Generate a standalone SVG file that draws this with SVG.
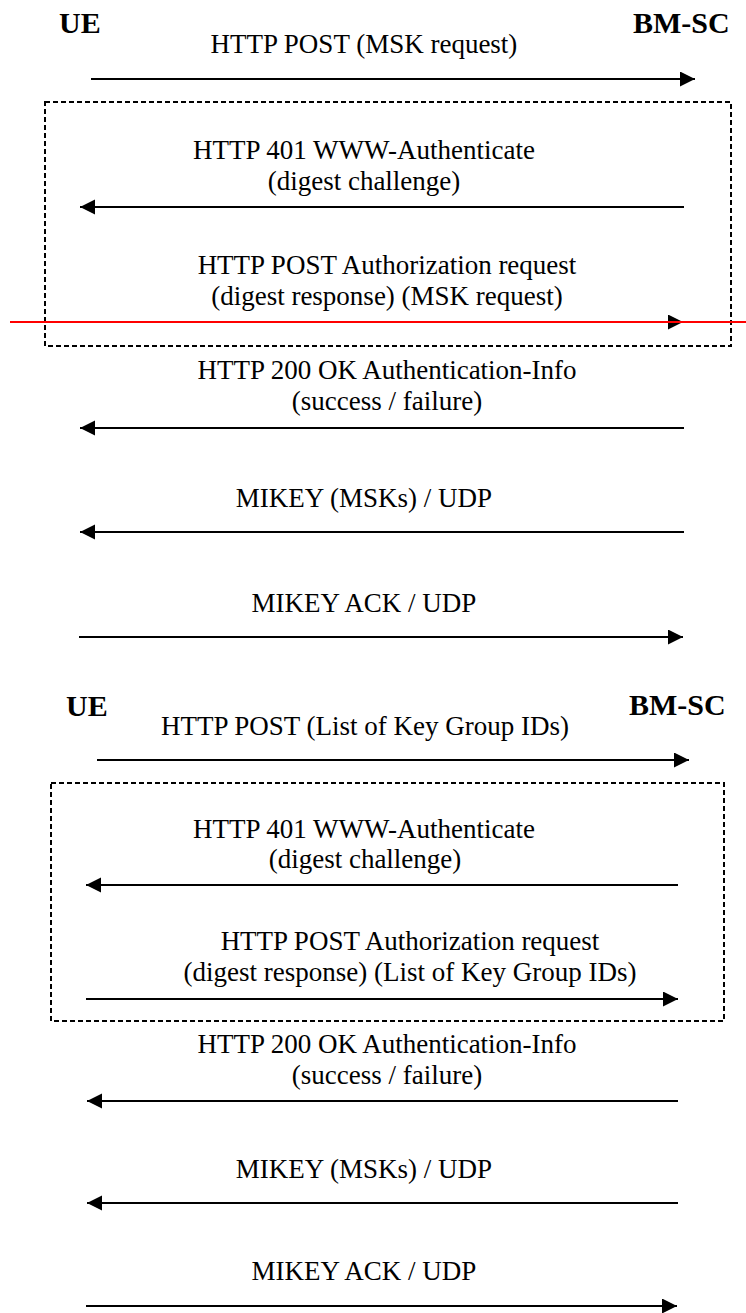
<svg xmlns="http://www.w3.org/2000/svg" width="746" height="1313" viewBox="0 0 746 1313">
<style>
text{font-family:"Liberation Serif","Times New Roman",serif;fill:#000}
.ent{font-size:30px;font-weight:bold}
.msg{font-size:27px;text-anchor:middle}
.arr{stroke:#000;stroke-width:2;fill:none;marker-end:url(#ah)}
.box{stroke:#000;stroke-width:2;fill:none;stroke-dasharray:5 3}
</style>
<defs>
<marker id="ah" markerUnits="userSpaceOnUse" markerWidth="16" markerHeight="16" refX="15" refY="7.5" orient="auto">
<path d="M0,0 L15,7.5 L0,15 z" fill="#000"/>
</marker>
</defs>
<rect width="746" height="1313" fill="#fff"/>
<g id="entities">
<text id="ue1" class="ent" x="59" y="33">UE</text>
<text id="bmsc1" class="ent" x="633" y="33">BM-SC</text>
<text id="ue2" class="ent" x="66" y="716">UE</text>
<text id="bmsc2" class="ent" x="629" y="715">BM-SC</text>
</g>
<g id="boxes">
<rect id="auth1" class="box" x="45" y="102" width="686" height="244"/>
<rect id="auth2" class="box" x="51" y="783" width="673" height="238"/>
</g>
<g id="labels">
<text class="msg" x="364" y="53">HTTP POST (MSK request)</text>
<text class="msg" x="364" y="159">HTTP 401 WWW-Authenticate</text>
<text class="msg" x="364" y="190">(digest challenge)</text>
<text class="msg" x="387" y="274">HTTP POST Authorization request</text>
<text class="msg" x="387" y="305">(digest response) (MSK request)</text>
<text class="msg" x="387" y="379">HTTP 200 OK Authentication-Info</text>
<text class="msg" x="387" y="410">(success / failure)</text>
<text class="msg" x="364" y="507">MIKEY (MSKs) / UDP</text>
<text class="msg" x="364" y="612">MIKEY ACK / UDP</text>
<text class="msg" x="365" y="735">HTTP POST (List of Key Group IDs)</text>
<text class="msg" x="364" y="838">HTTP 401 WWW-Authenticate</text>
<text class="msg" x="365" y="868">(digest challenge)</text>
<text class="msg" x="410" y="950">HTTP POST Authorization request</text>
<text class="msg" x="410" y="981">(digest response) (List of Key Group IDs)</text>
<text class="msg" x="387" y="1053">HTTP 200 OK Authentication-Info</text>
<text class="msg" x="387" y="1084">(success / failure)</text>
<text class="msg" x="364" y="1178">MIKEY (MSKs) / UDP</text>
<text class="msg" x="364" y="1280">MIKEY ACK / UDP</text>
</g>
<g id="connectors">
<line class="arr" x1="91" y1="79" x2="695" y2="79"/>
<line class="arr" x1="684" y1="207" x2="80" y2="207"/>
<line class="arr" x1="79" y1="322" x2="683" y2="322"/>
<line class="arr" x1="684" y1="428" x2="80" y2="428"/>
<line class="arr" x1="684" y1="532" x2="80" y2="532"/>
<line class="arr" x1="79" y1="637" x2="683" y2="637"/>
<line class="arr" x1="97" y1="760" x2="689" y2="760"/>
<line class="arr" x1="678" y1="885" x2="86" y2="885"/>
<line class="arr" x1="86" y1="999" x2="678" y2="999"/>
<line class="arr" x1="678" y1="1101" x2="87" y2="1101"/>
<line class="arr" x1="678" y1="1203" x2="87" y2="1203"/>
<line class="arr" x1="86" y1="1306" x2="677" y2="1306"/>
</g>
<line id="redline" x1="10" y1="322" x2="746" y2="322" stroke="#ff0000" stroke-width="2"/>
</svg>
